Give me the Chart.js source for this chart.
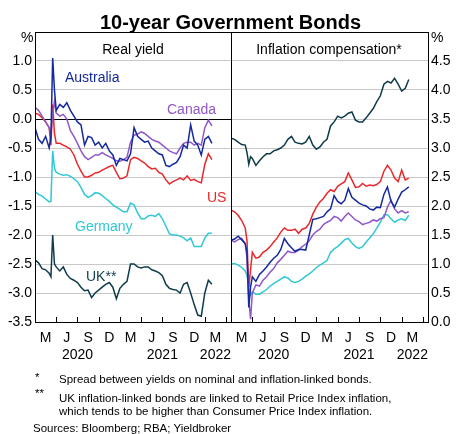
<!DOCTYPE html>
<html lang="en">
<head>
  <meta charset="UTF-8">
  <title>10-year Government Bonds</title>
  <script src="https://cdn.jsdelivr.net/npm/chart.js"></script>
  <style>
    body {
      margin: 0;
      background: #fff;
      color: #000;
      font-family: 'Liberation Sans', Arial, sans-serif;
    }
    #wrap { position: relative; width: 456px; height: 434px; overflow: hidden; }
    .txt { position: absolute; white-space: nowrap; line-height: 1; }
    #title { left: 0; width: 461px; text-align: center; top: 11.5px; font-size: 20px; font-weight: bold; }
    .panel { top: 41.5px; font-size: 14px; text-align: center; width: 196px; }
    .pct { top: 30px; font-size: 14px; }
    .lab { font-size: 14px; }
    .note { font-size: 11.5px; }
    #c1 { position: absolute; left: 0; top: 0; }
    #c2 { position: absolute; left: 230px; top: 0; }
  </style>
</head>
<body>
  <div id="wrap">
    <canvas id="c1" width="232" height="380"></canvas>
    <canvas id="c2" width="226" height="380"></canvas>

    <div class="txt" id="title">10-year Government Bonds</div>
    <div class="txt panel" style="left:35px">Real yield</div>
    <div class="txt panel" style="left:231px">Inflation compensation*</div>
    <div class="txt pct" style="left:21px">%</div>
    <div class="txt pct" style="left:431px">%</div>

    <!-- series labels -->
    <div class="txt lab" style="left:65px;top:70px;color:#1428a0">Australia</div>
    <div class="txt lab" style="left:167px;top:102px;color:#9057c8">Canada</div>
    <div class="txt lab" style="left:207px;top:190px;color:#e8282b">US</div>
    <div class="txt lab" style="left:75px;top:219px;color:#2fc8d6">Germany</div>
    <div class="txt lab" style="left:86px;top:269px;color:#0f3c4a">UK**</div>

    <!-- notes -->
    <div class="txt note" style="left:35px;top:372px">*</div>
    <div class="txt note" style="left:59px;top:374px">Spread between yields on nominal and inflation-linked bonds.</div>
    <div class="txt note" style="left:35px;top:388px">**</div>
    <div class="txt note" style="left:59px;top:392.5px">UK inflation-linked bonds are linked to Retail Price Index inflation,</div>
    <div class="txt note" style="left:59px;top:406px">which tends to be higher than Consumer Price Index inflation.</div>
    <div class="txt note" style="left:33px;top:422.5px">Sources: Bloomberg; RBA; Yieldbroker</div>
  </div>

  <script>
    // months since 1 Jan 2020
    const months = [0, 0.5, 1, 1.5, 2, 2.25, 2.5, 2.75, 3, 3.5, 4, 4.5, 5, 5.5, 6, 6.5, 7, 7.5, 8, 8.5,
      9, 9.5, 10, 10.5, 11, 11.5, 12, 12.5, 13, 13.5, 14, 14.5, 15, 15.5, 16, 16.5, 17, 17.5, 18, 18.5,
      19, 19.5, 20, 20.5, 21, 21.5, 22, 22.5, 23, 23.5, 24, 24.5, 25];

    // real yields (%)
    const realAustralia = [-0.15, -0.35, -0.42, -0.3, -0.5, -0.3, 1.05, 0.5, 0.15, 0.25, 0.2, 0.28, 0.15, 0.05, -0.05, -0.1, -0.45, -0.3, -0.32, -0.45,
      -0.4, -0.5, -0.42, -0.55, -0.62, -0.8, -0.68, -0.7, -0.72, -0.6, -0.15, -0.3, -0.35, -0.4, -0.38, -0.5, -0.55, -0.6, -0.62, -0.8,
      -0.82, -0.78, -0.75, -0.65, -0.45, -0.5, -0.1, -0.38, -0.45, -0.62, -0.35, -0.3, -0.42];
    const realCanada = [0.2, 0.15, 0.05, -0.05, -0.15, -0.25, 0.1, 0.3, 0.1, 0.05, 0.08, 0.0, -0.2, -0.3, -0.42, -0.55, -0.65, -0.7, -0.66, -0.62,
      -0.62, -0.58, -0.62, -0.65, -0.68, -0.72, -0.73, -0.7, -0.66, -0.4, -0.28, -0.26, -0.22, -0.25, -0.3, -0.35, -0.38, -0.4, -0.45, -0.5,
      -0.55, -0.58, -0.6, -0.5, -0.42, -0.4, -0.4, -0.45, -0.42, -0.45, -0.15, -0.02, -0.12];
    const realUS = [0.1, 0.08, 0.02, -0.05, -0.15, -0.45, 0.25, -0.25, -0.42, -0.42, -0.45, -0.48, -0.52, -0.62, -0.78, -0.9, -1.0, -1.0, -0.97, -0.93,
      -0.92, -0.88, -0.85, -0.82, -0.8, -0.92, -1.03, -1.02, -0.98, -0.7, -0.66, -0.68, -0.72, -0.76, -0.82, -0.86, -0.85, -0.92, -0.95, -1.05,
      -1.12, -1.08, -1.05, -1.02, -1.05, -0.98, -1.06, -1.04, -1.08, -1.1, -0.78, -0.6, -0.7];
    const realGermany = [-1.25, -1.3, -1.33, -1.38, -1.43, -1.42, -0.55, -0.85, -0.92, -0.95, -0.97, -0.96, -0.99, -1.03, -1.08, -1.18, -1.3, -1.35, -1.32, -1.27,
      -1.28, -1.32, -1.37, -1.42, -1.48, -1.52, -1.56, -1.6, -1.6, -1.45, -1.48, -1.62, -1.72, -1.72, -1.67, -1.66, -1.68, -1.63, -1.72, -1.85,
      -1.98, -2.0, -2.0, -2.02, -2.05, -2.1, -2.05, -2.2, -2.2, -2.2, -2.05, -1.97, -1.97];
    const realUK = [-2.43, -2.48, -2.58, -2.6, -2.66, -2.72, -2.0, -2.5, -2.55, -2.62, -2.55, -2.68, -2.75, -2.78, -2.82, -2.9, -2.96, -2.95, -3.08, -3.0,
      -2.95, -2.9, -2.85, -2.82, -2.9, -3.1, -2.92, -2.85, -2.8, -2.5, -2.5, -2.55, -2.57, -2.55, -2.55, -2.6, -2.62, -2.65, -2.7, -2.85,
      -2.92, -2.94, -2.95, -3.0, -2.85, -2.82, -3.0, -3.2, -3.38, -3.4, -3.0, -2.78, -2.85];

    // inflation compensation (%)
    const infAustralia = [1.41, 1.43, 1.48, 1.42, 1.35, 1.2, 0.25, 0.6, 0.78, 0.7, 0.82, 0.88, 0.95, 1.03, 1.1, 1.15, 1.25, 1.44, 1.35, 1.28,
      1.22, 1.25, 1.25, 1.24, 1.5, 1.77, 1.78, 1.8, 1.82, 1.9, 1.95, 2.18, 2.08, 2.04, 2.1, 2.3, 2.15, 2.1, 2.05, 2.02,
      2.0, 1.95, 1.93, 1.98, 1.97, 2.2, 2.33, 2.08, 1.98, 2.12, 2.24, 2.28, 2.33];
    const infCanada = [1.41, 1.38, 1.42, 1.44, 1.35, 1.1, 0.4, 0.05, 0.5, 0.64, 0.62, 0.72, 0.78, 0.86, 0.92, 1.02, 1.08, 1.15, 1.22, 1.2,
      1.2, 1.24, 1.3, 1.34, 1.4, 1.5, 1.56, 1.6, 1.68, 1.72, 1.75, 1.82, 1.8, 1.74, 1.82, 1.88, 1.82, 1.76, 1.73, 1.68,
      1.7, 1.72, 1.76, 1.74, 1.78, 1.8, 1.98, 2.1, 1.95, 1.88, 1.92, 1.88, 1.9];
    const infUS = [1.93, 1.9, 1.84, 1.75, 1.62, 1.4, 0.6, 0.9, 1.2, 1.1, 1.12, 1.2, 1.24, 1.3, 1.38, 1.45, 1.55, 1.62, 1.58, 1.58,
      1.6, 1.53, 1.6, 1.62, 1.7, 1.86, 1.98, 2.07, 2.13, 2.22, 2.28, 2.25, 2.34, 2.38, 2.42, 2.57, 2.45, 2.32, 2.33, 2.39,
      2.34, 2.36, 2.35, 2.37, 2.42, 2.6, 2.7, 2.62, 2.48, 2.42, 2.62, 2.45, 2.48];
    const infGermany = [1.0, 1.01, 0.98, 0.94, 0.88, 0.8, 0.6, 0.47, 0.52, 0.48, 0.48, 0.52, 0.56, 0.62, 0.66, 0.7, 0.74, 0.78, 0.76, 0.7,
      0.68, 0.7, 0.74, 0.79, 0.83, 0.88, 0.94, 0.98, 1.02, 1.06, 1.2, 1.26, 1.3, 1.36, 1.42, 1.44, 1.36, 1.3, 1.27, 1.3,
      1.38, 1.45, 1.52, 1.62, 1.72, 1.85, 1.85, 1.78, 1.72, 1.76, 1.78, 1.75, 1.84];
    const infUK = [3.17, 3.15, 3.1, 3.06, 3.05, 2.92, 2.72, 2.85, 2.82, 2.7, 2.78, 2.85, 2.9, 2.9, 2.95, 2.97, 3.0, 3.05, 3.15, 3.2,
      3.1, 3.08, 3.07, 3.1, 3.2, 3.05, 2.98, 3.02, 3.1, 3.15, 3.38, 3.45, 3.55, 3.52, 3.55, 3.6, 3.62, 3.48, 3.45, 3.45,
      3.52, 3.6, 3.68, 3.8, 3.9, 4.1, 4.15, 4.12, 4.2, 4.1, 3.98, 4.03, 4.18];

    // x axis: quarter boundaries get tick marks, labels sit mid-quarter
    const quarterTicks = [3, 6, 9, 12, 15, 18, 21, 24, 27];
    const labelPos = [1.5, 4.5, 6, 7.5, 10.5, 13.5, 16.5, 18, 19.5, 22.5, 25.5];
    const labelText = ['M', 'J', ['', '2020'], 'S', 'D', 'M', 'J', ['', '2021'], 'S', 'D', ['M', '2022']];

    const colours = {
      Australia: '#1428a0',
      Canada: '#9057c8',
      US: '#e8282b',
      Germany: '#2fc8d6',
      UK: '#0f3c4a'
    };
    const GRID = '#c8c8c8';

    Chart.defaults.font.family = "'Liberation Sans', Arial, sans-serif";
    Chart.defaults.font.size = 14;
    Chart.defaults.color = '#000';

    const frame = {
      id: 'frame',
      afterDraw(chart) {
        const { ctx, chartArea: a } = chart;
        const x = chart.scales.x;
        ctx.save();
        ctx.strokeStyle = '#000';
        ctx.lineWidth = 1;
        ctx.beginPath();
        quarterTicks.forEach(v => {
          const px = Math.round(x.getPixelForValue(v)) + 0.5;
          ctx.moveTo(px, a.bottom);
          ctx.lineTo(px, a.bottom - 5);
        });
        ctx.stroke();
        ctx.strokeRect(a.left + 0.5, a.top + 0.5, a.right - a.left, a.bottom - a.top);
        ctx.restore();
      }
    };

    function line(name, values) {
      return {
        label: name,
        data: months.map((m, i) => ({ x: m, y: values[i] })),
        borderColor: colours[name],
        borderWidth: 1.5,
        pointRadius: 0,
        tension: 0,
        fill: false
      };
    }

    function xScale() {
      return {
        type: 'linear',
        min: 0,
        max: 27.7,
        afterBuildTicks: s => { s.ticks = labelPos.map(v => ({ value: v })); },
        afterFit: s => {
          s.height = 58;
          // labels never reach the panel edges, so no side padding
          s.paddingLeft = 0;
          s.paddingRight = 0;
        },
        ticks: {
          autoSkip: false,
          maxRotation: 0,
          padding: 8,
          callback: (v, i) => labelText[i]
        },
        grid: { display: false, drawTicks: false },
        border: { display: false }
      };
    }

    function makeChart(id, datasets, yScale, padding) {
      return new Chart(document.getElementById(id), {
        type: 'line',
        data: { datasets },
        options: {
          responsive: false,
          animation: false,
          layout: { padding },
          plugins: { legend: { display: false }, tooltip: { enabled: false } },
          scales: { x: xScale(), y: yScale }
        },
        plugins: [frame]
      });
    }

    makeChart('c1', [
      line('Australia', realAustralia),
      line('Canada', realCanada),
      line('US', realUS),
      line('Germany', realGermany),
      line('UK', realUK)
    ], {
      min: -3.5,
      max: 1.5,
      afterFit: s => { s.width = 35; },
      ticks: {
        stepSize: 0.5,
        padding: 3,
        callback: v => v === 1.5 ? '' : v.toFixed(1)
      },
      grid: { color: c => c.tick.value === 0 ? '#000' : GRID, drawTicks: false },
      border: { display: false }
    }, { top: 32, right: 1, left: 0, bottom: 0 });

    makeChart('c2', [
      line('Australia', infAustralia),
      line('Canada', infCanada),
      line('US', infUS),
      line('Germany', infGermany),
      line('UK', infUK)
    ], {
      position: 'right',
      min: 0,
      max: 5,
      afterFit: s => { s.width = 28; },
      ticks: {
        stepSize: 0.5,
        padding: 3,
        callback: v => v === 5 ? '' : v.toFixed(1)
      },
      grid: { color: GRID, drawTicks: false },
      border: { display: false }
    }, { top: 32, left: 1, right: 0, bottom: 0 });
  </script>
</body>
</html>
